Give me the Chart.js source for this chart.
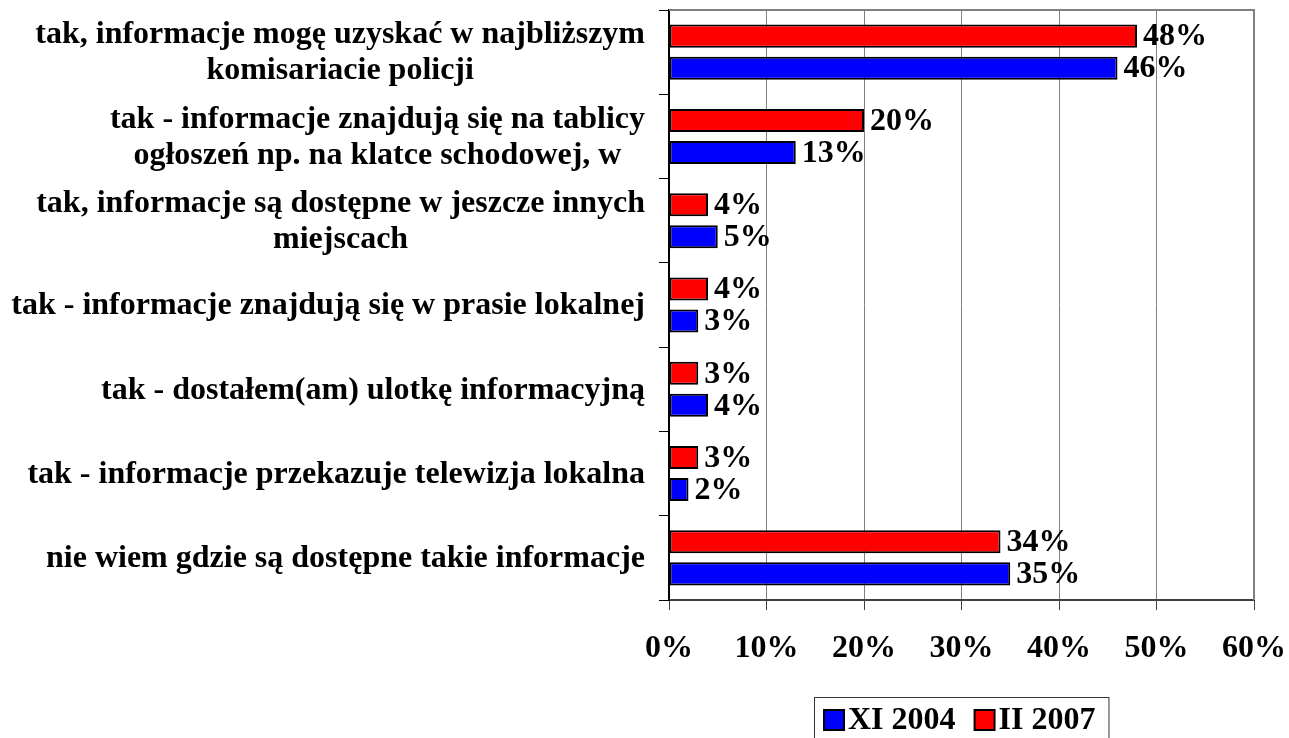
<!DOCTYPE html>
<html lang="pl">
<head>
    <meta charset="UTF-8">
    <title>Informacje o dzielnicowym</title>
    <script src="https://cdn.jsdelivr.net/npm/chart.js"></script>
    <style>
        html, body { margin: 0; padding: 0; background: #fff; }
        #wrap { width: 1289px; height: 738px; position: relative; }
    </style>
</head>
<body>
    <div id="wrap"><canvas id="chart"></canvas></div>

    <script>
        // Data
        const categories = [
            ['tak, informacje mogę uzyskać w najbliższym', 'komisariacie policji'],
            ['tak - informacje znajdują się na tablicy', 'ogłoszeń np. na klatce schodowej, w'],
            ['tak, informacje są dostępne w jeszcze innych', 'miejscach'],
            ['tak - informacje znajdują się w prasie lokalnej'],
            ['tak - dostałem(am) ulotkę informacyjną'],
            ['tak - informacje przekazuje telewizja lokalna'],
            ['nie wiem gdzie są dostępne takie informacje']
        ];
        const seriesNames = ['XI 2004', 'II 2007'];
        const values2004 = [46, 13, 5, 3, 4, 2, 35];
        const values2007 = [48, 20, 4, 4, 3, 3, 34];
        const xTicks = [0, 10, 20, 30, 40, 50, 60];

        const FONT = '"Times New Roman", "Liberation Serif", serif';
        const SIZE = 32;

        // value labels at the end of each bar
        const valueLabels = {
            id: 'valueLabels',
            afterDatasetsDraw(chart) {
                const ctx = chart.ctx;
                ctx.save();
                ctx.font = 'bold ' + SIZE + 'px ' + FONT;
                ctx.fillStyle = '#000';
                ctx.textAlign = 'left';
                ctx.textBaseline = 'middle';
                chart.data.datasets.forEach((ds, i) => {
                    chart.getDatasetMeta(i).data.forEach((bar, j) => {
                        ctx.fillText(ds.data[j] + '%', bar.x + 6, bar.y + 1);
                    });
                });
                ctx.restore();
            }
        };

        // category labels: block right aligned, lines centred in the block
        const catLabels = {
            id: 'catLabels',
            afterDraw(chart) {
                const ctx = chart.ctx;
                const y = chart.scales.y;
                const right = 645, lh = 36;
                ctx.save();
                ctx.font = 'bold ' + SIZE + 'px ' + FONT;
                ctx.fillStyle = '#000';
                ctx.textAlign = 'center';
                ctx.textBaseline = 'middle';
                categories.forEach((lines, i) => {
                    const w = Math.max(...lines.map(t => ctx.measureText(t).width));
                    const cx = right - w / 2;
                    const cy = y.getPixelForValue(i) + 1;
                    lines.forEach((t, k) => {
                        ctx.fillText(t, cx, cy + (k - (lines.length - 1) / 2) * lh);
                    });
                });
                ctx.restore();
            }
        };

        // top/right frame and boxed legend
        const frameLegend = {
            id: 'frameLegend',
            afterDraw(chart) {
                const ctx = chart.ctx;
                const a = chart.chartArea;
                ctx.save();
                ctx.strokeStyle = '#808080';
                ctx.lineWidth = 2;
                ctx.beginPath();
                ctx.moveTo(a.left, a.top);
                ctx.lineTo(a.right, a.top);
                ctx.lineTo(a.right, a.bottom);
                ctx.stroke();

                // legend
                ctx.font = 'bold ' + SIZE + 'px ' + FONT;
                ctx.textBaseline = 'middle';
                ctx.textAlign = 'left';
                const items = [chart.data.datasets[1], chart.data.datasets[0]];
                const sq = 20, gap = 4, sep = 19, padL = 10, padR = 13;
                let total = padL + padR;
                items.forEach((d, i) => {
                    total += sq + gap + ctx.measureText(d.label).width + (i < items.length - 1 ? sep : 0);
                });
                const cx = (a.left + a.right) / 2;
                const bx = Math.round(cx - total / 2), by = 697, cy = 720;
                ctx.strokeStyle = '#333';
                ctx.lineWidth = 1;
                ctx.strokeRect(bx + 0.5, by + 0.5, total, 60);
                let x = bx + padL;
                items.forEach(d => {
                    ctx.fillStyle = d.backgroundColor;
                    ctx.fillRect(x, cy - sq / 2, sq, sq);
                    ctx.strokeStyle = '#000';
                    ctx.lineWidth = 2;
                    ctx.strokeRect(x, cy - sq / 2, sq, sq);
                    x += sq + gap;
                    ctx.fillStyle = '#000';
                    ctx.fillText(d.label, x, cy + 1);
                    x += ctx.measureText(d.label).width + sep;
                });
                ctx.restore();
            }
        };

        new Chart(document.getElementById('chart'), {
            type: 'bar',
            data: {
                labels: categories,
                datasets: [
                    {
                        label: seriesNames[1],
                        data: values2007,
                        backgroundColor: '#ff0000',
                        borderColor: '#000',
                        borderWidth: 2,
                        borderSkipped: false
                    },
                    {
                        label: seriesNames[0],
                        data: values2004,
                        backgroundColor: '#0000ff',
                        borderColor: '#000',
                        borderWidth: 2,
                        borderSkipped: false
                    }
                ]
            },
            options: {
                indexAxis: 'y',
                responsive: true,
                maintainAspectRatio: false,
                animation: false,
                categoryPercentage: 0.76,
                barPercentage: 0.72,
                layout: { padding: { top: 10, right: 35, left: 0, bottom: 0 } },
                plugins: {
                    legend: { display: false },
                    tooltip: { enabled: false }
                },
                scales: {
                    x: {
                        min: 0,
                        max: 60,
                        afterFit: s => { s.height = 138; s.paddingRight = 0; s.paddingLeft = 0; },
                        afterBuildTicks: s => { s.ticks = xTicks.map(v => ({ value: v })); },
                        grid: { color: '#808080', lineWidth: 1, tickLength: 10, tickColor: '#404040' },
                        border: { color: '#404040', width: 2 },
                        ticks: {
                            padding: 20,
                            color: '#000',
                            font: { family: FONT, size: SIZE, weight: 'bold' },
                            callback: v => v + '%'
                        }
                    },
                    y: {
                        afterFit: s => { s.width = 669; s.paddingTop = 0; s.paddingBottom = 0; },
                        grid: { drawOnChartArea: false, tickLength: 10, tickColor: '#000' },
                        border: { color: '#000', width: 2 },
                        ticks: { display: false }
                    }
                }
            },
            plugins: [valueLabels, catLabels, frameLegend]
        });
    </script>
</body>
</html>
